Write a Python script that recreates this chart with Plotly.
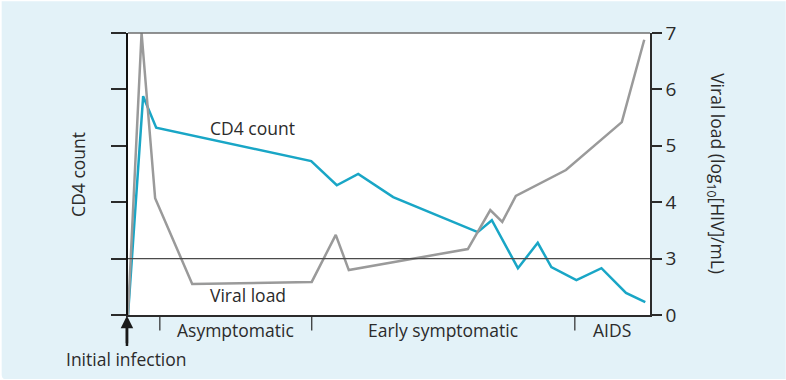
import plotly.graph_objects as go

# Time since infection (arbitrary units, 0-100)
vl_time = [0, 2.6, 5.2, 12.3, 35.2, 39.8, 42.3, 65.1, 69.4, 71.7, 74.3, 83.9, 94.6, 98.9]
# Viral load, log10[HIV]/mL
vl_log = [0, 7.0, 4.07, 1.65, 1.76, 3.42, 2.39, 3.17, 3.86, 3.65, 4.11, 4.57, 5.42, 6.88]

cd4_time = [0, 2.9, 5.4, 35.1, 40.0, 44.1, 50.8, 67.0, 69.7, 74.7, 78.5, 81.1, 85.9, 90.7, 95.4, 99.1]
# CD4 count, relative (unlabelled scale)
cd4_rel = [0, 3.88, 3.32, 2.73, 2.30, 2.50, 2.09, 1.47, 1.68, 0.83, 1.28, 0.85, 0.62, 0.83, 0.39, 0.23]

# Right axis is broken: 0, then 3..7 evenly spaced
vl_ticks = [0, 3, 4, 5, 6, 7]
stage_bounds = [6.1, 35.2, 85.6, 100]
stage_names = ["Asymptomatic", "Early symptomatic", "AIDS"]


def vl_pos(v):
    return v / 3 if v < 3 else v - 2


TEAL = "#19a6c6"
GREY = "#9a9a9a"
INK = "#2b2b2b"
FONT = "Open Sans"
FS = 17.5

fig = go.Figure()
fig.add_trace(go.Scatter(x=vl_time, y=[vl_pos(v) for v in vl_log], mode="lines",
                         line=dict(color=GREY, width=2.5), yaxis="y2", cliponaxis=True))
fig.add_trace(go.Scatter(x=cd4_time, y=cd4_rel, mode="lines",
                         line=dict(color=TEAL, width=2.5)))

shapes = [
    # rounded card background
    dict(type="path", xref="paper", yref="paper", layer="below",
         path="M -0.242,1.113 L 1.26,1.113 L 1.26,-0.227 L -0.236,-0.227 Q -0.242,-0.227 -0.242,-0.21 Z",
         fillcolor="#e3f2f8", line=dict(width=0)),
    # white plotting area
    dict(type="rect", xref="paper", yref="paper", x0=0, x1=1, y0=0, y1=1, layer="below",
         fillcolor="white", line=dict(width=0)),
    # top border
    dict(type="line", xref="paper", yref="paper", x0=0, x1=1, y0=1, y1=1,
         line=dict(color="#6e6e6e", width=1.5)),
    # reference level at viral load 3
    dict(type="line", xref="paper", yref="y2", x0=0, x1=1, y0=vl_pos(3), y1=vl_pos(3),
         line=dict(color="#4a4a4a", width=1.2)),
    # shaft of the infection arrow
    dict(type="line", xref="paper", yref="paper", x0=-0.002, x1=-0.002, y0=-0.02, y1=-0.11,
         line=dict(color="#1a1a1a", width=2.5)),
]
for b in stage_bounds[:-1]:
    shapes.append(dict(type="line", xref="x", yref="paper", x0=b, x1=b, y0=0, y1=-0.055,
                       line=dict(color=INK, width=1.2)))

annotations = [
    dict(x=23.8, y=3.32, xref="x", yref="y", text="CD4 count", showarrow=False,
         font=dict(size=FS, color=INK, family=FONT)),
    dict(x=23.0, y=0.36, xref="x", yref="y", text="Viral load", showarrow=False,
         font=dict(size=FS, color=INK, family=FONT)),
    # infection marker: label below the time axis with an arrow pointing up to t = 0
    dict(x=-0.002, y=-0.003, xref="paper", yref="paper", text="Initial infection",
         showarrow=True, ax=0, ay=43, arrowhead=2, arrowsize=1, arrowwidth=2.5,
         arrowcolor="#1a1a1a", standoff=0, startstandoff=2,
         font=dict(size=FS, color=INK, family=FONT)),
    dict(x=-0.096, y=0.5, xref="paper", yref="paper", text="CD4 count", textangle=-90,
         xanchor="center", yanchor="middle",
         showarrow=False, font=dict(size=FS, color=INK, family=FONT)),
    dict(x=1.128, y=0.5, xref="paper", yref="paper",
         text="Viral load (log<sub>10</sub>[HIV]/mL)", textangle=90,
         xanchor="center", yanchor="middle",
         showarrow=False, font=dict(size=FS, color=INK, family=FONT)),
]
for i, name in enumerate(stage_names):
    annotations.append(dict(x=(stage_bounds[i] + stage_bounds[i + 1]) / 2, y=-0.005,
                            xref="x", yref="paper", text=name, showarrow=False,
                            xanchor="center", yanchor="top",
                            font=dict(size=FS, color=INK, family=FONT)))

fig.update_layout(
    width=786, height=380, autosize=False,
    margin=dict(l=128, r=136, t=33, b=65),
    paper_bgcolor="white", plot_bgcolor="rgba(0,0,0,0)",
    showlegend=False,
    font=dict(family=FONT, color=INK),
    xaxis=dict(range=[0, 100], showgrid=False, zeroline=False, showticklabels=False,
               ticks="", showline=True, linecolor=INK, linewidth=1.5, fixedrange=True),
    yaxis=dict(range=[0, 5], tickvals=[0, 1, 2, 3, 4, 5], showticklabels=False,
               ticks="outside", ticklen=15, tickwidth=1.5, tickcolor=INK,
               showgrid=False, zeroline=False, showline=True, linecolor="#111", linewidth=2),
    yaxis2=dict(range=[0, 5], overlaying="y", side="right",
                tickvals=[vl_pos(v) for v in vl_ticks], ticktext=[str(v) for v in vl_ticks],
                ticks="outside", ticklen=10, tickwidth=1.5, tickcolor=INK,
                tickfont=dict(size=19, color=INK, family=FONT),
                showgrid=False, zeroline=False, showline=True, linecolor=INK, linewidth=1.5),
    shapes=shapes,
    annotations=annotations,
)

fig.write_html("out.html")
